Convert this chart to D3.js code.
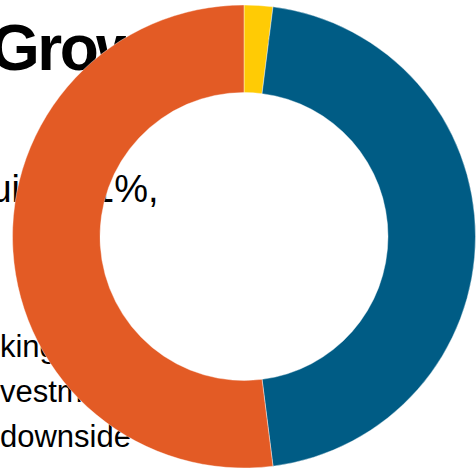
<!DOCTYPE html>
<html>
<head>
<meta charset="utf-8">
<script src="https://cdn.jsdelivr.net/npm/d3@7/dist/d3.min.js"></script>
<style>
  html, body { margin: 0; padding: 0; background: #fff; overflow: hidden; }
  svg { display: block; }
</style>
</head>
<body>
<svg id="chart" width="476" height="470"></svg>
<script>
// Data
const categories = ["Cash", "Fixed income", "Equities"];
const values = [2, 46, 52];
const colors = ["#FFCB05", "#005C85", "#E35B25"];

// Background page text (partly hidden by the chart)
const titleText = "Grow more";
const lineTwoA = "Equi";
const lineTwoB = "1%,";
const bodyLines = ["Banking", "investments", "downside"];

const svg = d3.select("#chart");
const W = 476, H = 470;

const font = "'Liberation Sans', Arial, Helvetica, sans-serif";

// background text
svg.append("text")
  .attr("x", -10).attr("y", 70)
  .attr("font-family", font).attr("font-weight", "bold").attr("font-size", 64)
  .attr("letter-spacing", -2.5)
  .attr("fill", "#000").text(titleText);

const l2 = svg.append("text")
  .attr("y", 202)
  .attr("font-family", font).attr("font-size", 38).attr("fill", "#000");
l2.append("tspan").attr("x", -56).text(lineTwoA);
l2.append("tspan").attr("x", 93).text(lineTwoB);

const bodyX = [-55.2, -24.2, 0];
const bodyY = [357, 402, 447];
svg.selectAll("text.body").data(bodyLines).enter().append("text")
  .attr("class", "body")
  .attr("x", (d, i) => bodyX[i]).attr("y", (d, i) => bodyY[i])
  .attr("font-family", font).attr("font-size", 31).attr("fill", "#000")
  .text(d => d);

// donut
const cx = 244, cy = 236.5, rOuter = 231.5, rInner = 144;
const pie = d3.pie().sort(null).value(d => d)(values);
const arc = d3.arc().innerRadius(rInner).outerRadius(rOuter);

svg.append("g").attr("transform", `translate(${cx},${cy})`)
  .selectAll("path").data(pie).enter().append("path")
  .attr("d", arc)
  .attr("fill", (d, i) => colors[i])
  .attr("stroke", "#fff").attr("stroke-width", 0.4)
  .append("title").text((d, i) => `${categories[i]}: ${values[i]}%`);
</script>
</body>
</html>
